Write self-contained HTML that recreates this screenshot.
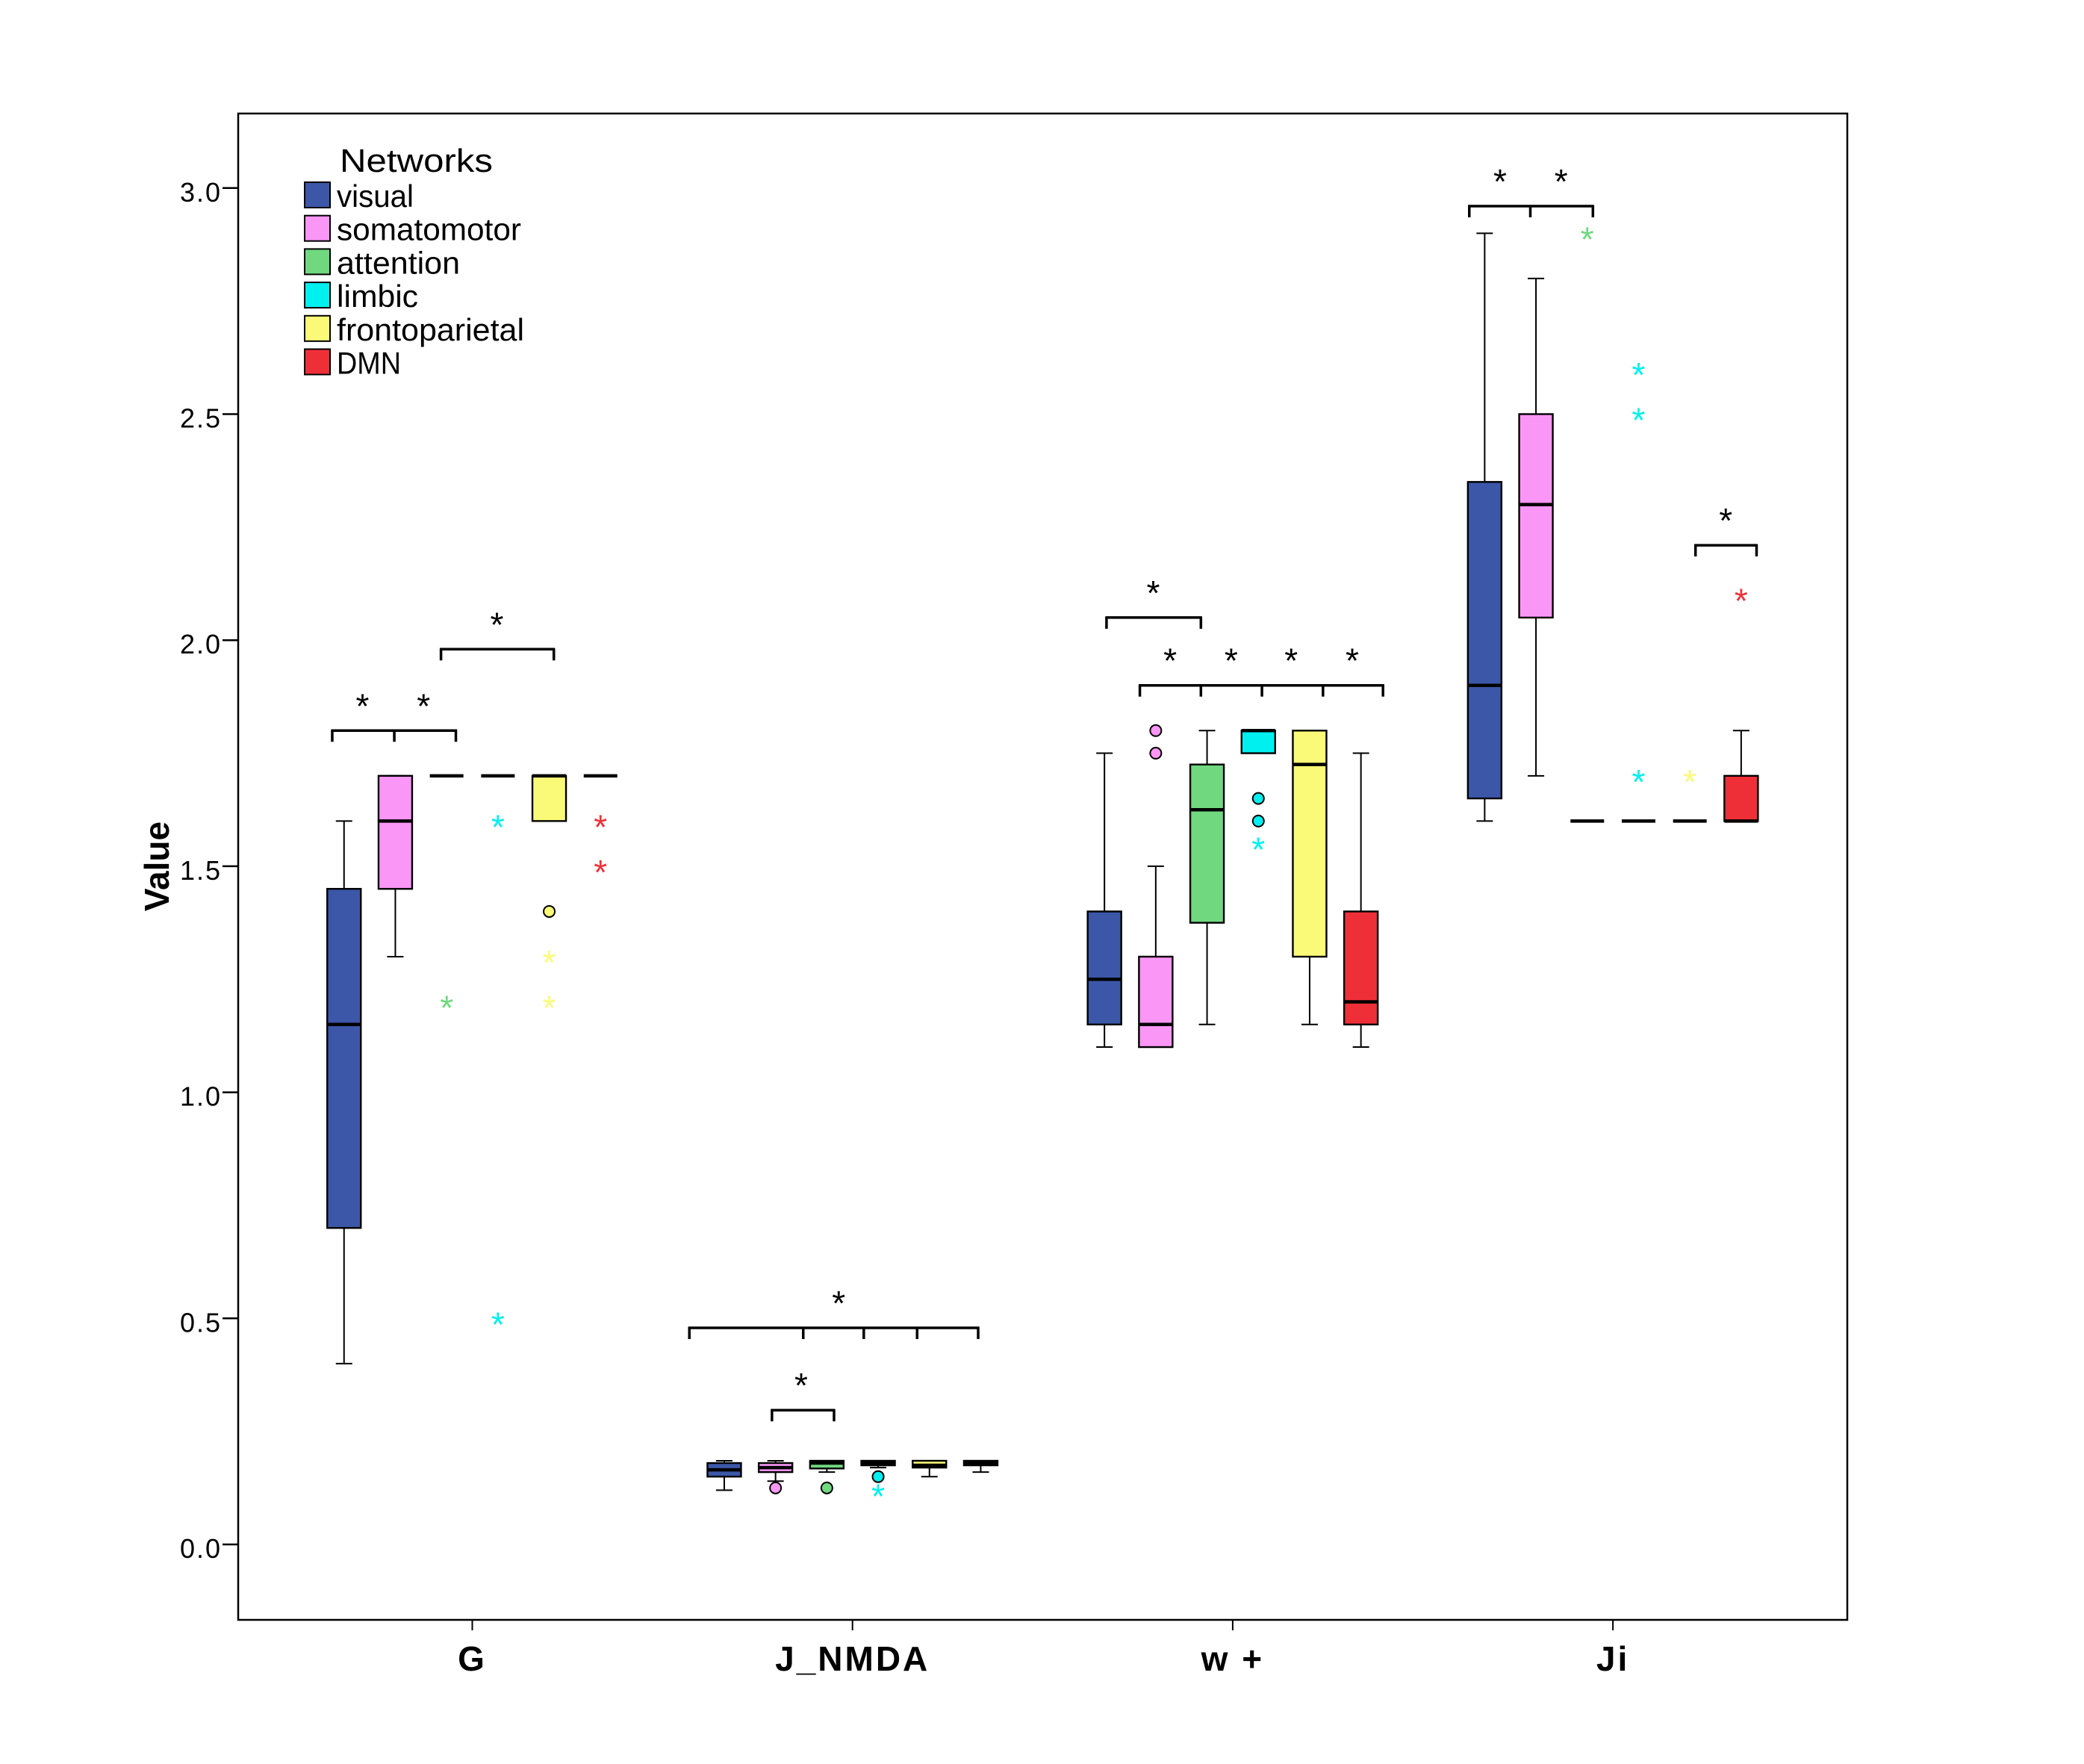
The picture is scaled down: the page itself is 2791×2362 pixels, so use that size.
<!DOCTYPE html>
<html><head><meta charset="utf-8"><style>
html,body{margin:0;padding:0;background:#fff}
svg{display:block;font-family:"Liberation Sans",Arial,sans-serif}
</style></head><body>
<svg id="chart" width="2791" height="2362" viewBox="0 0 2791 2362" xmlns="http://www.w3.org/2000/svg">
<rect x="319" y="152" width="2155" height="2017" fill="none" stroke="#000" stroke-width="2.5"/>
<text transform="translate(226,1160) rotate(-90)" text-anchor="middle" font-weight="bold" font-size="46">Value</text>
<g id="axes"></g>
<g id="marks"></g>
<g id="sig"></g>
<g id="legend"></g>
</svg>
<script>
const groups=["G","J_NMDA","w +","Ji"];
const networks=["visual","somatomotor","attention","limbic","frontoparietal","DMN"];
const colors=["#3c57a8","#fa96f5","#70d87f","#00f0f0","#fafa78","#ef2f38"];
const yTicks=[0,0.5,1,1.5,2,2.5,3];
// [min,q1,median,q3,max] per group x network
const statsG=[[0.4,0.7,1.15,1.45,1.6],[1.3,1.45,1.6,1.7,1.7],[1.7,1.7,1.7,1.7,1.7],[1.7,1.7,1.7,1.7,1.7],[1.6,1.6,1.7,1.7,1.7],[1.7,1.7,1.7,1.7,1.7]];
const statsJ=[[0.12,0.15,0.165,0.18,0.185],[0.14,0.16,0.17,0.18,0.185],[0.16,0.168,0.18,0.185,0.185],[0.17,0.175,0.18,0.185,0.185],[0.15,0.17,0.175,0.185,0.185],[0.16,0.175,0.18,0.185,0.185]];
const statsW=[[1.1,1.15,1.25,1.4,1.75],[1.1,1.1,1.15,1.3,1.5],[1.15,1.375,1.625,1.725,1.8],[1.75,1.75,1.8,1.8,1.8],[1.15,1.3,1.725,1.8,1.8],[1.1,1.15,1.2,1.4,1.75]];
const statsJi=[[1.6,1.65,1.9,2.35,2.9],[1.7,2.05,2.3,2.5,2.8],[1.6,1.6,1.6,1.6,1.6],[1.6,1.6,1.6,1.6,1.6],[1.6,1.6,1.6,1.6,1.6],[1.6,1.6,1.6,1.7,1.8]];
const stats=[statsG,statsJ,statsW,statsJi];
// outliers: [group, network, value, type]
const outliers=[[0,2,1.2,"s"],[0,3,1.6,"s"],[0,3,0.5,"s"],[0,4,1.4,"o"],[0,4,1.3,"s"],[0,4,1.2,"s"],[0,5,1.6,"s"],[0,5,1.5,"s"],
[1,1,0.125,"o"],[1,2,0.125,"o"],[1,3,0.15,"o"],[1,3,0.12,"s"],
[2,1,1.8,"o"],[2,1,1.75,"o"],[2,3,1.65,"o"],[2,3,1.6,"o"],[2,3,1.55,"s"],
[3,2,2.9,"s"],[3,3,2.6,"s"],[3,3,2.5,"s"],[3,3,1.7,"s"],[3,4,1.7,"s"],[3,5,2.1,"s"]];
// significance brackets: group, tick positions (network units), level, star positions (network units)
const bracketGroups=[0,0,1,1,2,2,3,3];
const bracketTicks=[[-0.23,0.98,2.18],[1.89,4.09],[-0.68,1.54,2.72,3.76,4.95],[0.93,2.14],[0.04,1.88],[0.69,1.88,3.07,4.26,5.43],[-0.3,0.89,2.11],[4.11,5.3]];
const bracketLevels=[1.8,1.98,0.479,0.297,2.05,1.9,2.96,2.21];
const bracketStars=[[0.36,1.55],[2.98],[2.23],[1.5],[0.95],[1.28,2.47,3.64,4.83],[0.3,1.49],[4.7]];
const legendWidths=[103,247,165,109,251,86];
const NS="http://www.w3.org/2000/svg";
const yS=v=>2068-605.4*v;
const gx=g=>632.5+509.2*g;
const nx=(g,n)=>gx(g)+(n-2.5)*68.7;
function mk(p,t,a){const e=document.createElementNS(NS,t);for(const k in a)e.setAttribute(k,a[k]);p.appendChild(e);return e;}
const axes=document.getElementById("axes"),marks=document.getElementById("marks"),sig=document.getElementById("sig"),leg=document.getElementById("legend");
yTicks.forEach(t=>{const y=yS(t);
 const l=mk(axes,"line",{x1:298,x2:319,y1:y,y2:y,stroke:"#000","stroke-width":2.5});
 
 
 const tx=mk(axes,"text",{x:297,y:y+18,"text-anchor":"end","font-size":36,"letter-spacing":"2"});tx.textContent=t.toFixed(1);
 
 });
groups.forEach((g,i)=>{const x=gx(i);
 const l=mk(axes,"line",{x1:x,x2:x,y1:2169,y2:2183,stroke:"#000","stroke-width":2});
 
 
 const tx=mk(axes,"text",{x:x,y:2237,"text-anchor":"middle","font-size":46,"font-weight":"bold","letter-spacing":"3"});tx.textContent=g;
 
 });
const w=45;
stats.forEach((gs,gi)=>gs.forEach((s,ni)=>{const x=nx(gi,ni);const [mn,q1,md,q3,mx]=s;
 const grp=mk(marks,"g",{});
 
 
 mk(grp,"line",{x1:x,x2:x,y1:yS(mx),y2:yS(q3),stroke:"#000","stroke-width":2});
 mk(grp,"line",{x1:x,x2:x,y1:yS(q1),y2:yS(mn),stroke:"#000","stroke-width":2});
 mk(grp,"line",{x1:x-11,x2:x+11,y1:yS(mx),y2:yS(mx),stroke:"#000","stroke-width":2});
 mk(grp,"line",{x1:x-11,x2:x+11,y1:yS(mn),y2:yS(mn),stroke:"#000","stroke-width":2});
 const h=yS(q1)-yS(q3);
 if(h>0.5) mk(grp,"rect",{x:x-w/2,y:yS(q3),width:w,height:h,fill:colors[ni],stroke:"#000","stroke-width":2.4});
 mk(grp,"line",{x1:x-w/2,x2:x+w/2,y1:yS(md),y2:yS(md),stroke:"#000","stroke-width":4.5});
}));
outliers.forEach(o=>{const [g,n,v,t]=o;const x=nx(g,n),y=yS(v);
 if(t==="o"){const c=mk(marks,"circle",{cx:x,cy:y,r:7.5,fill:colors[n],stroke:"#000","stroke-width":2});
  
  }
 else{const s=mk(marks,"text",{x:x,y:y+24,"text-anchor":"middle","font-size":46,fill:colors[n]});s.textContent="*";
  
  }});
bracketTicks.forEach((ticks,i)=>{const g=bracketGroups[i];const y=yS(bracketLevels[i]);
 const grp=mk(sig,"g",{});
 
 
 const xs=ticks.map(t=>nx(g,t));
 mk(grp,"line",{x1:xs[0]-1.5,x2:xs[xs.length-1]+1.5,y1:y,y2:y,stroke:"#000","stroke-width":3.5});
 xs.forEach(x=>mk(grp,"line",{x1:x,x2:x,y1:y-1,y2:y+15,stroke:"#000","stroke-width":3.5}));
 bracketStars[i].forEach(p=>{const t=mk(grp,"text",{x:nx(g,p),y:y-17,"text-anchor":"middle","font-size":46});t.textContent="*";});
});
const lt=mk(leg,"text",{x:455,y:230,"font-size":44,textLength:205,lengthAdjust:"spacingAndGlyphs"});lt.textContent="Networks";


networks.forEach((n,i)=>{const y=244+44.7*i;const g=mk(leg,"g",{});
 
 
 mk(g,"rect",{x:408,y:y,width:34,height:34,fill:colors[i],stroke:"#000","stroke-width":2});
 const t=mk(g,"text",{x:451,y:y+33,"font-size":42,textLength:legendWidths[i],lengthAdjust:"spacingAndGlyphs"});t.textContent=n;});
</script>
</body></html>
